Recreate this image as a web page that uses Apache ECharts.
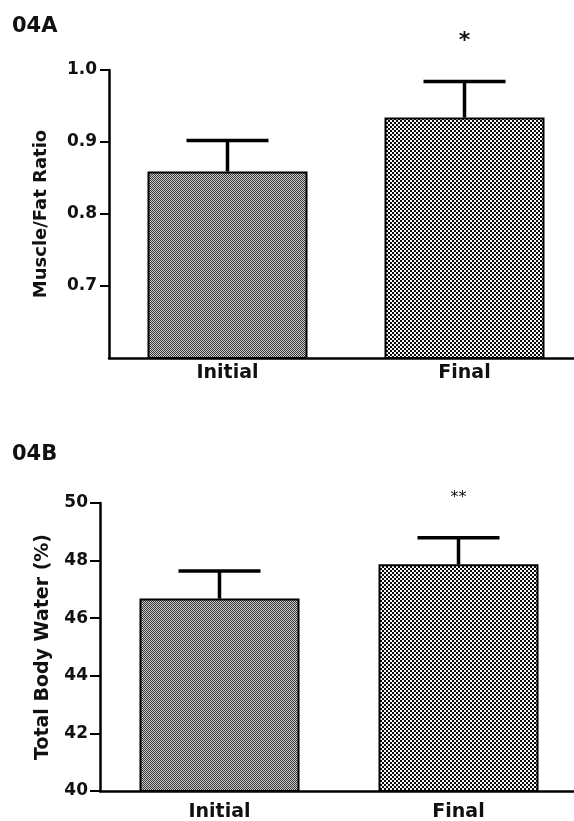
<!DOCTYPE html>
<html>
<head>
<meta charset="utf-8">
<script src="https://cdn.jsdelivr.net/npm/echarts@6/dist/echarts.min.js"></script>
<style>html,body{margin:0;padding:0;background:#fff;}#c{width:574px;height:821px;}</style>
</head>
<body>
<div id="c"></div>
<script>
// ---- data ----
var categories = ['Initial', 'Final'];
var muscleFatMean = [0.859, 0.934];
var muscleFatSem = [0.043, 0.050];
var muscleFatSig = ['', '*'];
var bodyWaterMean = [46.68, 47.87];
var bodyWaterSem = [0.96, 0.92];
var bodyWaterSig = ['', '**'];
var ticksA = [0.7, 0.8, 0.9, 1.0];
var ticksB = [40, 42, 44, 46, 48, 50];

var FONT = '"DejaVu Sans", "Liberation Sans", Arial, sans-serif';

function makeTile(size, cell, dark, light) {
  var c = document.createElement('canvas');
  c.width = size; c.height = size;
  var ctx = c.getContext('2d');
  ctx.fillStyle = light; ctx.fillRect(0, 0, size, size);
  ctx.fillStyle = dark;
  for (var y = 0; y < size; y += cell) {
    for (var x = 0; x < size; x += cell) {
      if (((x / cell) + (y / cell)) % 2 === 0) ctx.fillRect(x, y, cell, cell);
    }
  }
  return c;
}
var fineTile = makeTile(2, 1, '#3a3a3a', '#c8c8c8');
var coarseTile = makeTile(4, 2, '#0a0a0a', '#f8f8f8');
var patterns = [
  { image: fineTile, repeat: 'repeat' },
  { image: coarseTile, repeat: 'repeat' }
];

function barData(means) {
  return means.map(function (v, i) {
    return { value: v, itemStyle: { color: patterns[i] } };
  });
}
function errData(means, sems) {
  return means.map(function (v, i) { return [i, v + sems[i], v]; });
}
function errRenderer(sig, sigFont) {
  return function (params, api) {
    var cat = api.value(0);
    var top = api.coord([cat, api.value(1)]);
    var base = api.coord([cat, api.value(2)]);
    var half = 41;
    var children = [
      { type: 'line', shape: { x1: top[0], y1: base[1], x2: top[0], y2: top[1] },
        style: { stroke: '#000', lineWidth: 3.5 } },
      { type: 'line', shape: { x1: top[0] - half, y1: top[1], x2: top[0] + half, y2: top[1] },
        style: { stroke: '#000', lineWidth: 3.5 } }
    ];
    var s = sig[params.dataIndex];
    if (s) {
      children.push({ type: 'text', x: top[0], y: top[1] - 40,
        style: { text: s, fill: '#111', font: sigFont, align: 'center', verticalAlign: 'middle' } });
    }
    return { type: 'group', children: children };
  };
}

var axisLineStyle = { color: '#000', width: 2.5 };

var option = {
  animation: false,
  backgroundColor: '#fff',
  graphic: [
    { type: 'text', left: 12, top: 16, style: { text: '04A', font: 'bold 21px ' + FONT, fill: '#111' } },
    { type: 'text', left: 12, top: 444, style: { text: '04B', font: 'bold 21px ' + FONT, fill: '#111' } }
  ],
  grid: [
    { left: 109, top: 70, width: 474, height: 288, outerBoundsMode: 'none', containLabel: false },
    { left: 100, top: 503, width: 478, height: 288, outerBoundsMode: 'none', containLabel: false }
  ],
  xAxis: [
    { type: 'category', gridIndex: 0, data: categories,
      axisLine: { lineStyle: axisLineStyle },
      axisTick: { alignWithLabel: true, length: 5, lineStyle: { color: '#000', width: 2 } },
      axisLabel: { margin: 6, color: '#111', fontFamily: FONT, fontWeight: 'bold', fontSize: 19 } },
    { type: 'category', gridIndex: 1, data: categories,
      axisLine: { lineStyle: axisLineStyle },
      axisTick: { alignWithLabel: true, length: 5, lineStyle: { color: '#000', width: 2 } },
      axisLabel: { margin: 12, color: '#111', fontFamily: FONT, fontWeight: 'bold', fontSize: 19 } }
  ],
  yAxis: [
    { type: 'value', gridIndex: 0, min: 0.6, max: 1.0, interval: 0.1,
      name: 'Muscle/Fat Ratio', nameLocation: 'middle', nameGap: 59,
      nameTextStyle: { color: '#111', fontFamily: FONT, fontWeight: 'bold', fontSize: 18 },
      axisLine: { show: true, lineStyle: axisLineStyle },
      axisTick: { show: true, length: 9, customValues: ticksA, lineStyle: { color: '#000', width: 2 } },
      axisLabel: { margin: 12, customValues: ticksA, color: '#111', fontFamily: FONT, fontWeight: 'bold', fontSize: 17,
        formatter: function (v) { return v.toFixed(1); } },
      splitLine: { show: false } },
    { type: 'value', gridIndex: 1, min: 40, max: 50, interval: 2,
      name: 'Total Body Water (%)', nameLocation: 'middle', nameGap: 47,
      nameTextStyle: { color: '#111', fontFamily: FONT, fontWeight: 'bold', fontSize: 19 },
      axisLine: { show: true, lineStyle: axisLineStyle },
      axisTick: { show: true, length: 10, customValues: ticksB, lineStyle: { color: '#000', width: 2 } },
      axisLabel: { margin: 12, customValues: ticksB, color: '#111', fontFamily: FONT, fontWeight: 'bold', fontSize: 17 },
      splitLine: { show: false } }
  ],
  series: [
    { type: 'bar', xAxisIndex: 0, yAxisIndex: 0, barWidth: 160, data: barData(muscleFatMean),
      itemStyle: { borderColor: '#000', borderWidth: 2 } },
    { type: 'custom', xAxisIndex: 0, yAxisIndex: 0, renderItem: errRenderer(muscleFatSig, 'bold 22px ' + FONT),
      data: errData(muscleFatMean, muscleFatSem), z: 3 },
    { type: 'bar', xAxisIndex: 1, yAxisIndex: 1, barWidth: 160, data: barData(bodyWaterMean),
      itemStyle: { borderColor: '#000', borderWidth: 2 } },
    { type: 'custom', xAxisIndex: 1, yAxisIndex: 1, renderItem: errRenderer(bodyWaterSig, '16px ' + FONT),
      data: errData(bodyWaterMean, bodyWaterSem), z: 3 }
  ]
};

var chart = echarts.init(document.getElementById('c'), null, { renderer: 'canvas' });
chart.setOption(option);
</script>
</body>
</html>
